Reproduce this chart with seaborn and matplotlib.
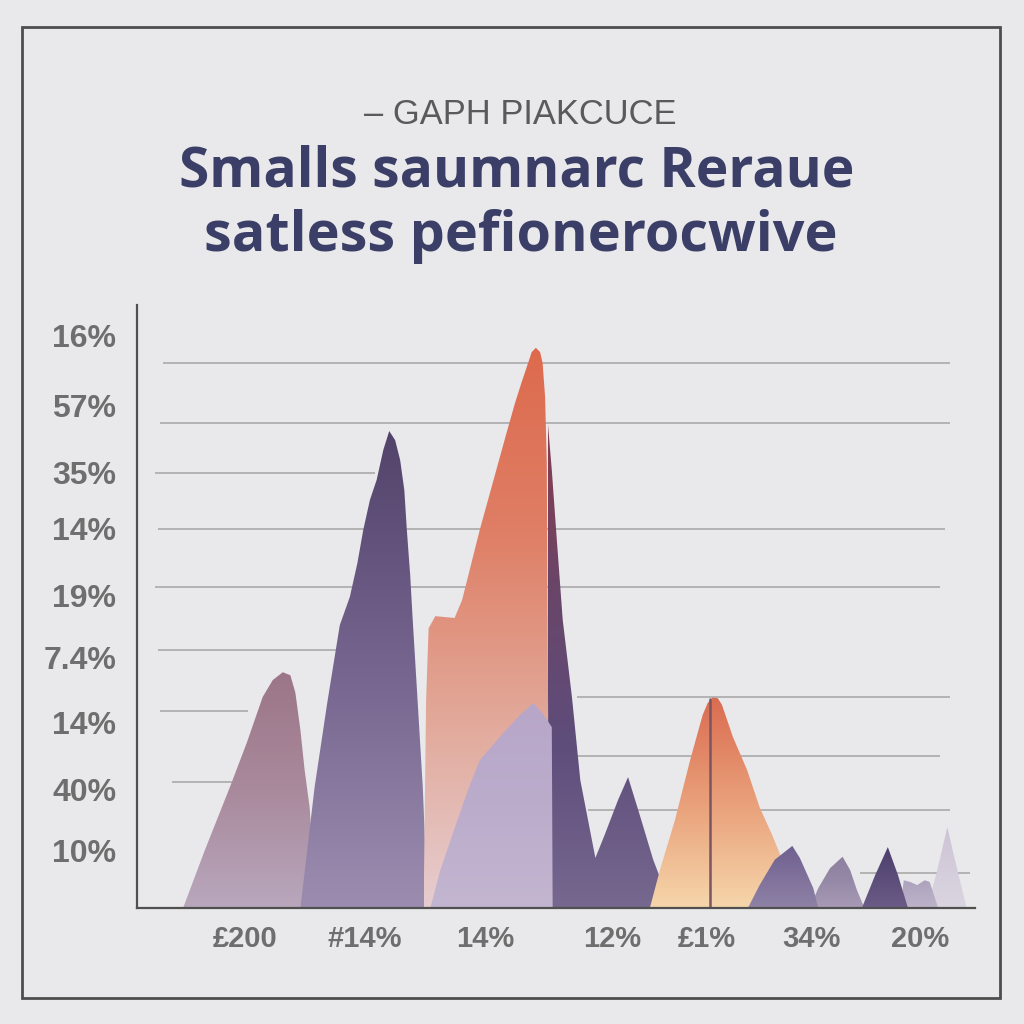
import numpy as np
import matplotlib
matplotlib.use("Agg")
import matplotlib.pyplot as plt
import seaborn as sns
from matplotlib.patches import Polygon, Rectangle
from matplotlib.colors import LinearSegmentedColormap

# ---- chart text ----
header = "– GAPH PIAKCUCE"
title_1 = "Smalls saumnarc Reraue"
title_2 = "satless pefionerocwive"

y_tick_pos = [95.0, 83.4, 72.3, 63.0, 51.9, 41.6, 30.8, 19.6, 9.6]
y_tick_labels = ["16%", "57%", "35%", "14%", "19%", "7.4%", "14%", "40%", "10%"]
x_tick_pos = [12.9, 27.2, 41.5, 56.7, 68.0, 80.5, 93.4]
x_tick_labels = ["£200", "#14%", "14%", "12%", "£1%", "34%", "20%"]

# ---- peak outlines (x, y) ----
peak_a_x = [5.5, 8.1, 11.1, 13.1, 15.0, 16.2, 17.4, 18.3, 18.9, 19.5, 20.0, 20.6, 21.4]
peak_a_y = [0, 9.6, 20.1, 27.4, 35.0, 37.8, 39.1, 38.6, 35.7, 29.5, 22.9, 16.7, 0]

peak_b_x = [19.5, 21.2, 22.7, 24.2, 25.4, 26.3, 27.0, 27.8, 28.6, 29.4, 30.1,
            30.8, 31.4, 31.9, 32.2, 32.6, 32.9, 33.5, 34.1, 34.7]
peak_b_y = [0, 20.1, 34.0, 46.9, 51.6, 57.2, 62.7, 67.7, 71.0, 76.0, 79.1,
            77.6, 74.3, 69.3, 62.7, 55.2, 47.8, 34.0, 20.1, 0]

peak_c_x = [34.2, 34.5, 34.8, 35.6, 37.9, 38.8, 40.9, 44.2, 45.1, 45.9, 46.7, 47.1,
            47.6, 48.1, 48.4, 48.7, 48.9, 49.0, 49.2]
peak_c_y = [0, 34.5, 46.4, 48.4, 48.1, 51.1, 62.7, 79.3, 83.7, 87.2, 90.5, 92.2,
            92.9, 92.2, 90.4, 84.7, 73.8, 46.1, 0]

peak_d_x = [35.0, 36.2, 37.7, 39.5, 40.9, 43.7, 45.7, 47.3, 48.4, 49.5, 49.6]
peak_d_y = [0, 6.3, 12.4, 19.6, 24.5, 29.0, 32.0, 34.0, 32.3, 30.0, 0]

peak_e_x = [49.0, 49.0, 49.5, 50.1, 50.8, 51.9, 52.9, 54.7, 55.8, 57.4, 58.6, 60.0, 61.6, 63.8]
peak_e_y = [0, 80.9, 72.6, 61.0, 47.8, 35.0, 21.2, 8.3, 12.1, 17.9, 21.7, 15.4, 8.0, 0]

peak_f_x = [61.2, 62.4, 64.2, 66.0, 67.5, 68.1, 68.7, 69.3, 69.8, 71.1, 72.8, 74.3, 75.8, 77.0, 78.5, 79.5]
peak_f_y = [0, 6.3, 14.6, 24.5, 32.0, 34.0, 34.9, 34.8, 33.7, 28.4, 22.9, 16.7, 12.1, 8.0, 3.0, 0]

peak_g_x = [72.9, 74.3, 76.1, 78.2, 79.1, 80.7, 81.3]
peak_g_y = [0, 3.8, 8.0, 10.3, 8.3, 3.3, 0]

peak_h_x = [80.3, 81.3, 82.7, 84.2, 85.1, 85.9, 86.8]
peak_h_y = [0, 3.3, 6.6, 8.5, 6.3, 3.0, 0]

peak_i_x = [86.5, 88.1, 89.6, 90.8, 92.0]
peak_i_y = [0, 5.5, 10.1, 5.5, 0]

peak_j_x = [91.1, 91.5, 92.3, 93.1, 94.0, 94.6, 95.6]
peak_j_y = [0, 4.6, 4.3, 3.8, 4.6, 4.3, 0]

peak_k_x = [94.3, 95.5, 96.7, 97.6, 99.0]
peak_k_y = [0, 6.3, 13.4, 8.0, 0]

marker_x = [68.4, 68.4]
marker_y = [0, 34.7]

# grid segments: level, start, end
grid_y = [90.4, 80.4, 72.1, 62.9, 53.2, 42.8, 35.0, 32.7, 25.2, 20.9, 16.3, 5.8]
grid_x0 = [3.1, 2.7, 2.1, 2.5, 2.1, 2.5, 52.5, 2.7, 52.3, 4.2, 53.8, 86.3]
grid_x1 = [97.0, 97.0, 28.4, 96.4, 95.8, 23.9, 97.0, 13.2, 95.8, 16.1, 97.0, 99.4]

bg = "#e9e9eb"
sns.set_theme(style="white", rc={"figure.facecolor": bg, "axes.facecolor": bg})
plt.rcParams["font.family"] = ["Liberation Sans Narrow", "Liberation Sans", "DejaVu Sans"]


def gradient_peak(ax, xs, ys, colors, z):
    poly = Polygon(np.column_stack([xs, ys]), closed=True, facecolor="none", edgecolor="none")
    ax.add_patch(poly)
    cmap = LinearSegmentedColormap.from_list("g", colors)
    grad = np.linspace(0, 1, 256).reshape(-1, 1)
    im = ax.imshow(grad, cmap=cmap, aspect="auto", origin="lower",
                   extent=[min(xs), max(xs), 0, max(ys)], zorder=z, interpolation="bicubic")
    im.set_clip_path(poly)


fig = plt.figure(figsize=(10.24, 10.24), dpi=100)
ax = fig.add_axes([137 / 1024, 116 / 1024, 838 / 1024, 603 / 1024])

ax.hlines(grid_y, grid_x0, grid_x1, colors="#a5a5a5", linewidth=1.1, zorder=1)

gradient_peak(ax, peak_a_x, peak_a_y, ["#b9a7bd", "#a98a9c", "#9c7588"], 2)
gradient_peak(ax, peak_b_x, peak_b_y, ["#9c8db0", "#75658f", "#52436b"], 3)
gradient_peak(ax, peak_e_x, peak_e_y, ["#76688f", "#5e4d7b", "#6a4568", "#8a3c4e"], 3)
gradient_peak(ax, peak_c_x, peak_c_y, ["#e6cdd0", "#e2a99a", "#df7f66", "#dd6a4d"], 4)
gradient_peak(ax, peak_d_x, peak_d_y, ["#c3b6d0", "#bcaccc", "#b7a6c8"], 5)
gradient_peak(ax, peak_f_x, peak_f_y, ["#f6d6ab", "#e9a07a", "#da6c50"], 5)
sns.lineplot(x=marker_x, y=marker_y, ax=ax, color="#7b5563", linewidth=1.8,
             estimator=None, sort=False, zorder=6)
gradient_peak(ax, peak_k_x, peak_k_y, ["#dbd5e0", "#cdc3d6"], 6)
gradient_peak(ax, peak_j_x, peak_j_y, ["#bdb4c9", "#ada2bd"], 7)
gradient_peak(ax, peak_h_x, peak_h_y, ["#a99bb6", "#958aa8", "#8f7f9f"], 7)
gradient_peak(ax, peak_g_x, peak_g_y, ["#8f82a6", "#6f6090"], 8)
gradient_peak(ax, peak_i_x, peak_i_y, ["#6a5c86", "#4d3f6c"], 8)

ax.set_xlim(0, 100)
ax.set_ylim(0, 100)
for s in ["top", "right"]:
    ax.spines[s].set_visible(False)
for s in ["left", "bottom"]:
    ax.spines[s].set_color("#505050")
    ax.spines[s].set_linewidth(1.6)
    ax.spines[s].set_zorder(10)

ax.set_yticks(y_tick_pos)
ax.set_yticklabels(y_tick_labels, fontsize=23, fontweight="bold", color="#6e6e6e")
ax.set_xticks(x_tick_pos)
ax.set_xticklabels(x_tick_labels, fontsize=21, fontweight="bold", color="#6e6e6e")
ax.tick_params(axis="y", length=0, pad=15)
ax.tick_params(axis="x", length=0, pad=12)

# figure frame
fig.patches.append(Rectangle((22 / 1024, 26 / 1024), 978 / 1024, 971 / 1024,
                             transform=fig.transFigure, fill=False,
                             edgecolor="#4d4d4d", linewidth=2))

renderer = fig.canvas.get_renderer()


def fitted_text(s, xc, yc, width_px, size, **kw):
    t = fig.text(xc / 1024, 1 - yc / 1024, s, ha="center", va="center", fontsize=size, **kw)
    w = t.get_window_extent(renderer).width
    t.set_fontsize(size * width_px / w)
    return t


fitted_text(header, 520, 115, 312, 22, color="#5a5a5a",
            family=["Liberation Sans Narrow", "Liberation Sans", "DejaVu Sans"])
fitted_text(title_1, 517, 172, 675, 40, color="#3b3f68", fontweight="bold",
            family=["Open Sans", "DejaVu Sans"])
fitted_text(title_2, 521, 237, 633, 40, color="#3b3f68", fontweight="bold",
            family=["Open Sans", "DejaVu Sans"])

fig.savefig("out.png", dpi=100, facecolor=bg)
